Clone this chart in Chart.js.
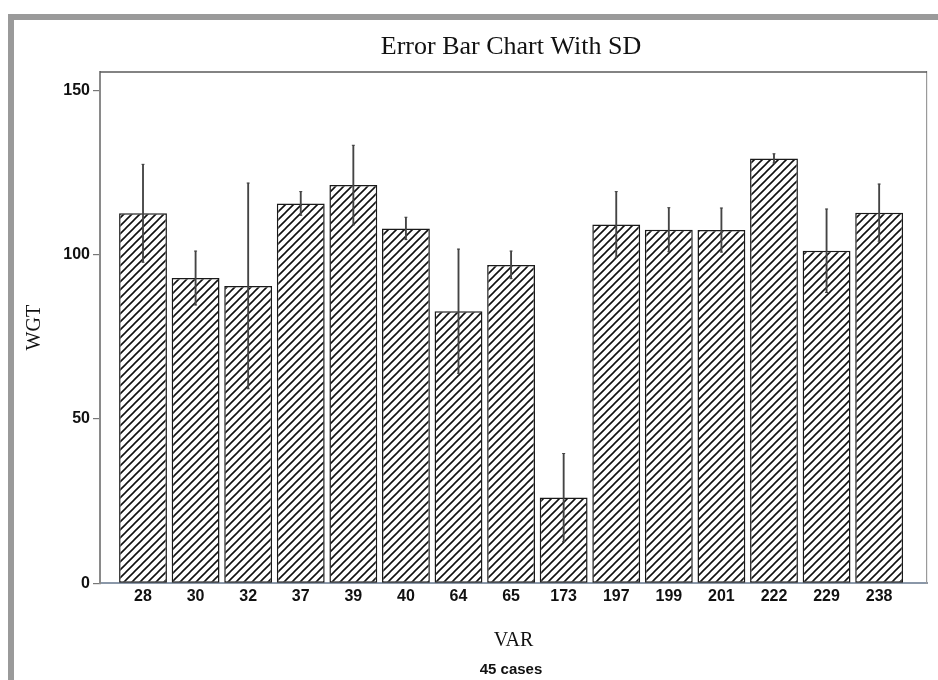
<!DOCTYPE html>
<html>
<head>
<meta charset="utf-8">
<script src="https://cdn.jsdelivr.net/npm/chart.js@4.4.1/dist/chart.umd.min.js"></script>
<style>
  html, body { margin: 0; padding: 0; background: #fff; overflow: hidden; }
  body { width: 938px; height: 680px; position: relative; }
  .frame { position: absolute; left: 8px; top: 14px; right: -20px; bottom: -20px;
           border-top: 6px solid #9a9a9a; border-left: 6px solid #9a9a9a; }
  #chart { position: absolute; left: 14px; top: 20px; }
</style>
</head>
<body>
<div class="frame"></div>
<canvas id="chart" width="994" height="660"></canvas>
<script>
// values
const categories = ['28', '30', '32', '37', '39', '40', '64', '65', '173', '197', '199', '201', '222', '229', '238'];
const means = [112.6, 92.9, 90.5, 115.6, 121.2, 108.0, 82.8, 96.9, 26.1, 109.2, 107.6, 107.5, 129.3, 101.2, 112.8];
const sds = [14.9, 8.2, 31.3, 3.6, 12.1, 3.4, 18.9, 4.2, 13.4, 10.0, 6.7, 6.7, 1.4, 12.7, 8.7];
const yTicks = [0, 50, 100, 150];

const canvas = document.getElementById('chart');
const ctx = canvas.getContext('2d');

// diagonal hatch fill like the original printout
function makeHatch() {
  const s = 8;
  const c = document.createElement('canvas');
  c.width = s;
  c.height = s;
  const g = c.getContext('2d');
  g.fillStyle = '#fff';
  g.fillRect(0, 0, s, s);
  g.strokeStyle = '#111';
  g.lineWidth = 1.6;
  g.beginPath();
  g.moveTo(0, s); g.lineTo(s, 0);
  g.moveTo(-1, 1); g.lineTo(1, -1);
  g.moveTo(s - 1, s + 1); g.lineTo(s + 1, s - 1);
  g.stroke();
  return ctx.createPattern(c, 'repeat');
}

// top edge of the plot box (right edge comes from the spare axis)
const plotFrame = {
  id: 'plotFrame',
  beforeDatasetsDraw(chart) {
    const a = chart.chartArea;
    const c = chart.ctx;
    c.save();
    c.lineWidth = 1.5;
    c.strokeStyle = '#5a5a5a';
    c.beginPath();
    c.moveTo(a.left, a.top);
    c.lineTo(a.right, a.top);
    c.stroke();
    c.restore();
  }
};

const tickFont = { family: 'Liberation Sans', size: 16, weight: 'bold' };
const serif = { family: 'Liberation Serif', size: 20 };

new Chart(canvas, {
  data: {
    datasets: [
      {
        type: 'line',
        label: 'caps',
        data: means.flatMap((m, i) => [{ x: i, y: m + sds[i] }, { x: i, y: m - sds[i] }]),
        showLine: false,
        pointStyle: 'line',
        pointRadius: 1.5,
        borderColor: '#444',
        borderWidth: 1,
        order: 0
      },
      {
        type: 'bar',
        label: 'SD',
        data: means.map((m, i) => ({ x: i, y: [m - sds[i], m + sds[i]] })),
        backgroundColor: '#444',
        barThickness: 1.2,
        grouped: false,
        order: 1
      },
      {
        type: 'bar',
        label: 'WGT',
        data: means.map((m, i) => ({ x: i, y: m })),
        backgroundColor: makeHatch(),
        borderColor: '#1a1a1a',
        borderWidth: 1.5,
        borderSkipped: false,
        barPercentage: 0.91,
        categoryPercentage: 1,
        grouped: false,
        order: 2
      }
    ]
  },
  options: {
    responsive: false,
    animation: false,
    plugins: {
      legend: { display: false },
      tooltip: { enabled: false },
      title: {
        display: true,
        text: 'Error Bar Chart With SD',
        color: '#111',
        font: { family: 'Liberation Serif', size: 26, weight: 'normal' },
        padding: { top: 12, bottom: 8.8 }
      },
      subtitle: {
        display: true,
        position: 'bottom',
        text: '45 cases',
        color: '#111',
        font: { family: 'Liberation Sans', size: 15, weight: 'bold' },
        padding: { top: 8.5, bottom: 1 }
      }
    },
    scales: {
      x: {
        type: 'linear',
        offset: false,
        min: -0.818,
        max: 14.91,
        afterBuildTicks: axis => { axis.ticks = categories.map((c, i) => ({ value: i })); },
        ticks: {
          callback: v => categories[v],
          font: tickFont,
          color: '#111',
          padding: 4,
          autoSkip: false,
          maxRotation: 0
        },
        grid: { display: true, drawOnChartArea: false, drawTicks: false },
        border: { color: '#8a97a8', width: 2 },
        title: { display: true, text: 'VAR', color: '#111', font: serif, padding: { top: 18, bottom: 0 } }
      },
      y: {
        min: 0,
        max: 155.6,
        afterBuildTicks: axis => { axis.ticks = yTicks.map(v => ({ value: v })); },
        afterFit: axis => { axis.width = 86; },
        ticks: { font: tickFont, color: '#111', padding: 3 },
        grid: { drawOnChartArea: false, tickLength: 7, color: '#777', lineWidth: 1.2 },
        border: { color: '#8a8a8a', width: 2 },
        title: { display: true, text: 'WGT', color: '#111', font: serif, padding: { top: 9, bottom: 0 } }
      },
      yRight: {
        position: 'right',
        min: 0,
        max: 155.6,
        afterFit: axis => { axis.width = 81; },
        ticks: { display: false },
        grid: { display: false },
        border: { color: '#9a9a9a', width: 1.2 }
      }
    }
  },
  plugins: [plotFrame]
});
</script>
</body>
</html>
